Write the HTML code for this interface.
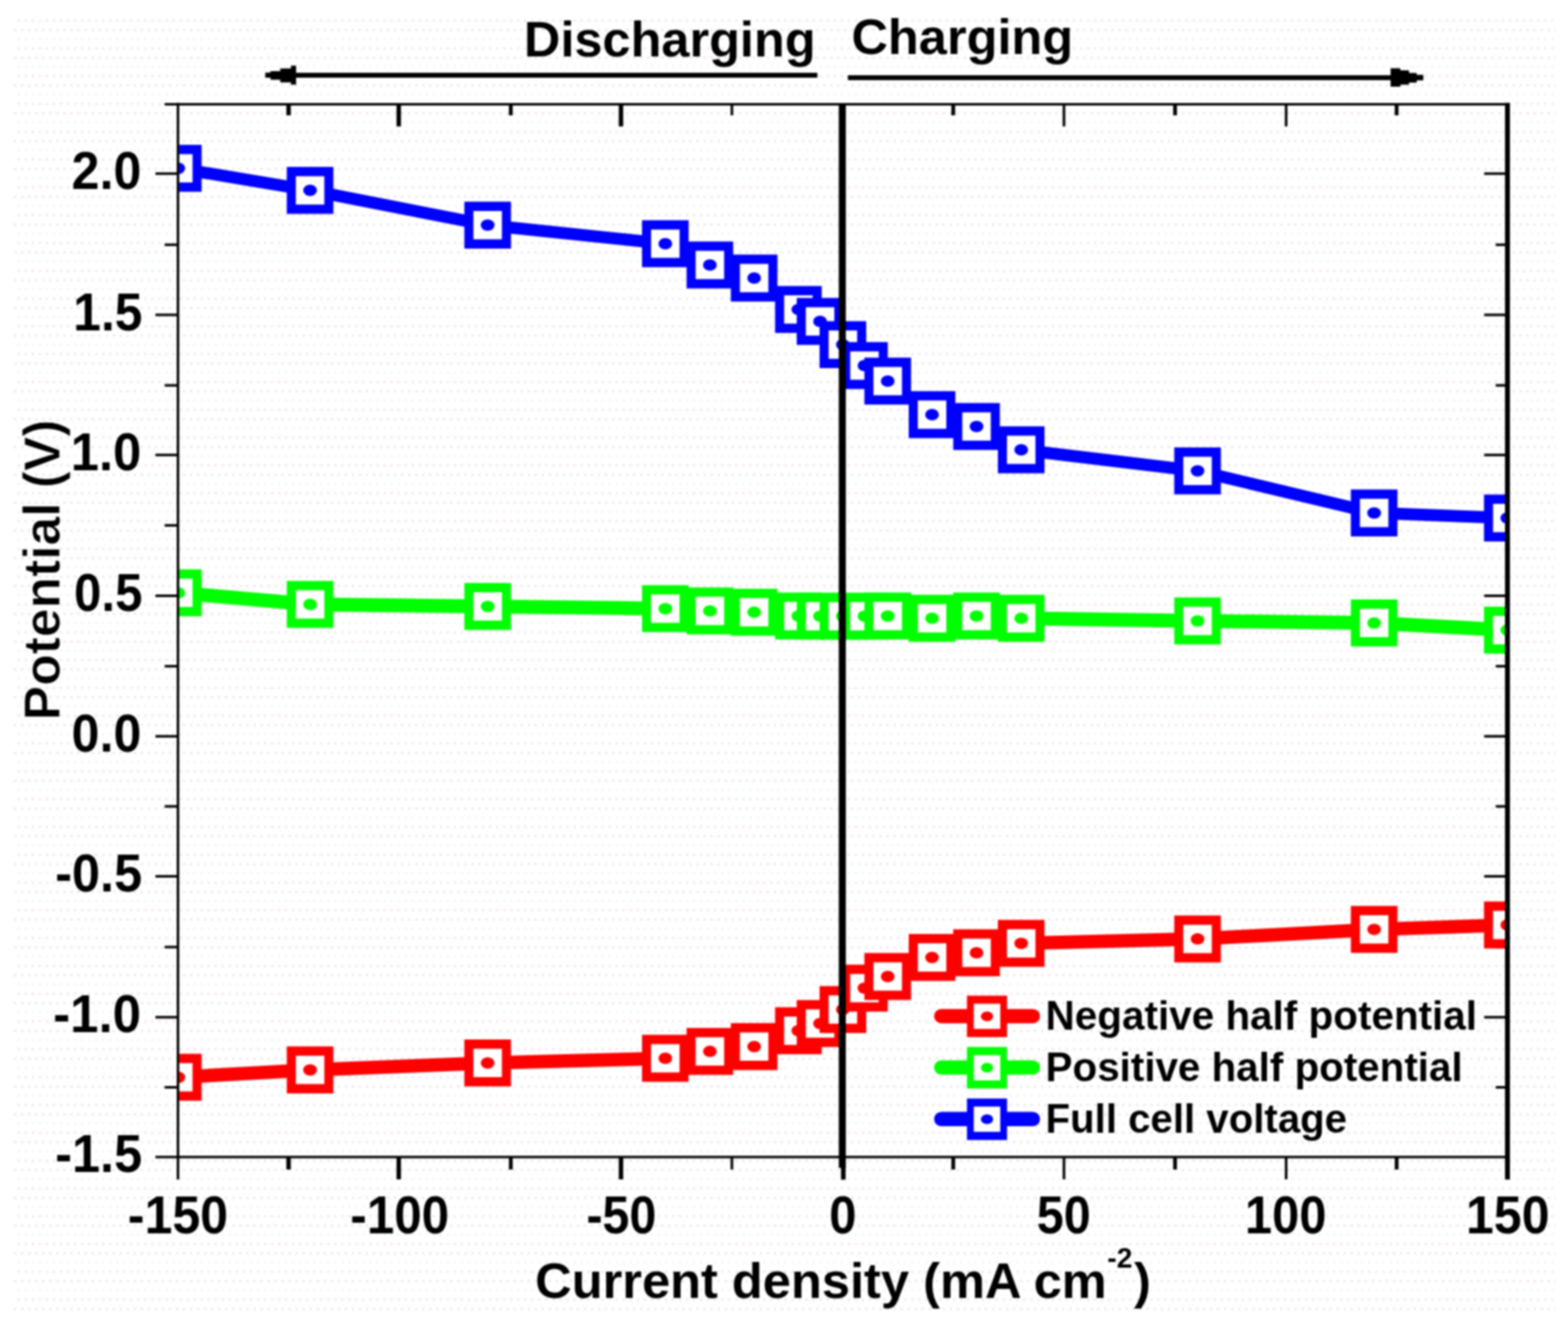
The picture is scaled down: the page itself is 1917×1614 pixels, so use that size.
<!DOCTYPE html>
<html lang="en"><head><meta charset="utf-8">
<title>Polarization curve: potential vs current density</title>
<style>
html,body{margin:0;padding:0;background:#fff;}
body{width:1917px;height:1614px;overflow:hidden;}
svg{display:block;}
text{font-family:"Liberation Sans", Arial, Helvetica, sans-serif;font-weight:bold;fill:#000;}
</style></head><body>
<svg width="1917" height="1614" viewBox="0 0 1917 1614">
<defs>
<clipPath id="plot"><rect x="219.1" y="127.5" width="1623.9" height="1287.3"/></clipPath>
<filter id="soft" x="-2%" y="-2%" width="104%" height="104%" color-interpolation-filters="sRGB"><feGaussianBlur stdDeviation="0.9"/></filter>
<pattern id="dither" x="20" y="22" width="17.2" height="34" patternUnits="userSpaceOnUse">
<rect width="17.2" height="34" fill="#ffffff"/>
<circle cx="3" cy="3" r="1.6" fill="#f1e3f1"/>
<circle cx="11.6" cy="3" r="1.6" fill="#f1e3f1"/>
<circle cx="7.3" cy="14.5" r="1.6" fill="#f1e3f1"/>
<circle cx="15.9" cy="14.5" r="1.6" fill="#f1e3f1"/>
<circle cx="3" cy="25.5" r="1.6" fill="#eaf7f9"/>
<circle cx="11.6" cy="25.5" r="1.6" fill="#f2f7e7"/>
</pattern>
</defs>
<rect x="0" y="0" width="1917" height="1614" fill="#ffffff"/>
<g filter="url(#soft)">
<rect x="16" y="20" width="1886" height="1584" fill="url(#dither)"/>
<g stroke="#000" fill="none" stroke-linecap="butt">
<line x1="190" y1="212.3" x2="217.6" y2="212.3" stroke-width="3.1"/>
<line x1="1814.5" y1="212.3" x2="1843.0" y2="212.3" stroke-width="3.1"/>
<line x1="201.3" y1="299.3" x2="217.6" y2="299.3" stroke-width="3.1"/>
<line x1="1828.6" y1="299.3" x2="1843.0" y2="299.3" stroke-width="3.1"/>
<line x1="190" y1="385.0" x2="217.6" y2="385.0" stroke-width="3.1"/>
<line x1="1814.5" y1="385.0" x2="1843.0" y2="385.0" stroke-width="3.1"/>
<line x1="201.3" y1="471.2" x2="217.6" y2="471.2" stroke-width="3.1"/>
<line x1="1828.6" y1="471.2" x2="1843.0" y2="471.2" stroke-width="3.1"/>
<line x1="190" y1="556.3" x2="217.6" y2="556.3" stroke-width="3.1"/>
<line x1="1814.5" y1="556.3" x2="1843.0" y2="556.3" stroke-width="3.1"/>
<line x1="201.3" y1="642.4" x2="217.6" y2="642.4" stroke-width="3.1"/>
<line x1="1828.6" y1="642.4" x2="1843.0" y2="642.4" stroke-width="3.1"/>
<line x1="190" y1="728.5" x2="217.6" y2="728.5" stroke-width="3.1"/>
<line x1="1814.5" y1="728.5" x2="1843.0" y2="728.5" stroke-width="3.1"/>
<line x1="201.3" y1="814.6" x2="217.6" y2="814.6" stroke-width="3.1"/>
<line x1="1828.6" y1="814.6" x2="1843.0" y2="814.6" stroke-width="3.1"/>
<line x1="190" y1="900.3" x2="217.6" y2="900.3" stroke-width="3.1"/>
<line x1="1814.5" y1="900.3" x2="1843.0" y2="900.3" stroke-width="3.1"/>
<line x1="201.3" y1="986.0" x2="217.6" y2="986.0" stroke-width="3.1"/>
<line x1="1828.6" y1="986.0" x2="1843.0" y2="986.0" stroke-width="3.1"/>
<line x1="190" y1="1071.5" x2="217.6" y2="1071.5" stroke-width="3.1"/>
<line x1="1814.5" y1="1071.5" x2="1843.0" y2="1071.5" stroke-width="3.1"/>
<line x1="201.3" y1="1158.0" x2="217.6" y2="1158.0" stroke-width="3.1"/>
<line x1="1828.6" y1="1158.0" x2="1843.0" y2="1158.0" stroke-width="3.1"/>
<line x1="190" y1="1243.8" x2="217.6" y2="1243.8" stroke-width="3.1"/>
<line x1="1814.5" y1="1243.8" x2="1843.0" y2="1243.8" stroke-width="3.1"/>
<line x1="201.3" y1="1329.5" x2="217.6" y2="1329.5" stroke-width="3.1"/>
<line x1="1828.6" y1="1329.5" x2="1843.0" y2="1329.5" stroke-width="3.1"/>
<line x1="352.8" y1="127.5" x2="352.8" y2="141.0" stroke-width="5.4"/>
<line x1="352.8" y1="1414.8" x2="352.8" y2="1430.0" stroke-width="5.4"/>
<line x1="487.5" y1="127.5" x2="487.5" y2="154.6" stroke-width="5.4"/>
<line x1="487.5" y1="1414.8" x2="487.5" y2="1442.0" stroke-width="5.4"/>
<line x1="624.5" y1="127.5" x2="624.5" y2="141.0" stroke-width="4.6"/>
<line x1="624.5" y1="1414.8" x2="624.5" y2="1430.0" stroke-width="4.6"/>
<line x1="759.2" y1="127.5" x2="759.2" y2="154.6" stroke-width="5.4"/>
<line x1="759.2" y1="1414.8" x2="759.2" y2="1442.0" stroke-width="5.4"/>
<line x1="894.8" y1="127.5" x2="894.8" y2="141.0" stroke-width="3.2"/>
<line x1="894.8" y1="1414.8" x2="894.8" y2="1430.0" stroke-width="3.2"/>
<line x1="1165.4" y1="127.5" x2="1165.4" y2="141.0" stroke-width="4.6"/>
<line x1="1165.4" y1="1414.8" x2="1165.4" y2="1430.0" stroke-width="4.6"/>
<line x1="1300.8" y1="127.5" x2="1300.8" y2="154.6" stroke-width="3.2"/>
<line x1="1300.8" y1="1414.8" x2="1300.8" y2="1442.0" stroke-width="3.2"/>
<line x1="1436.6" y1="127.5" x2="1436.6" y2="141.0" stroke-width="4.6"/>
<line x1="1436.6" y1="1414.8" x2="1436.6" y2="1430.0" stroke-width="4.6"/>
<line x1="1572.4" y1="127.5" x2="1572.4" y2="154.6" stroke-width="3.2"/>
<line x1="1572.4" y1="1414.8" x2="1572.4" y2="1442.0" stroke-width="3.2"/>
<line x1="1707.5" y1="127.5" x2="1707.5" y2="141.0" stroke-width="4.6"/>
<line x1="1707.5" y1="1414.8" x2="1707.5" y2="1430.0" stroke-width="4.6"/>
</g>
<g clip-path="url(#plot)">
<polyline points="218.0,1317.2 379.1,1308.2 596.2,1299.7 813.4,1294.0 867.9,1285.6 922.0,1279.7 976.1,1260.3 1002.6,1251.5 1030.5,1234.4 1056.9,1208.2 1085.3,1194.0 1139.5,1170.7 1193.9,1165.0 1248.5,1153.5 1464.1,1148.1 1680.0,1136.4 1842.8,1131.0" fill="none" stroke="#ff0000" stroke-width="16.5" stroke-linejoin="round"/>
<rect x="189.5" y="1288.5" width="57.0" height="57.4" fill="#ff0000"/>
<rect x="200.6" y="1299.9" width="34.8" height="34.6" fill="#ffffff"/>
<ellipse cx="218.0" cy="1317.2" rx="8.4" ry="7" fill="#ff0000"/>
<rect x="350.6" y="1279.5" width="57.0" height="57.4" fill="#ff0000"/>
<rect x="361.7" y="1290.9" width="34.8" height="34.6" fill="#ffffff"/>
<ellipse cx="379.1" cy="1308.2" rx="8.4" ry="7" fill="#ff0000"/>
<rect x="567.7" y="1271.0" width="57.0" height="57.4" fill="#ff0000"/>
<rect x="578.8" y="1282.4" width="34.8" height="34.6" fill="#ffffff"/>
<ellipse cx="596.2" cy="1299.7" rx="8.4" ry="7" fill="#ff0000"/>
<rect x="784.9" y="1265.3" width="57.0" height="57.4" fill="#ff0000"/>
<rect x="796.0" y="1276.7" width="34.8" height="34.6" fill="#ffffff"/>
<ellipse cx="813.4" cy="1294.0" rx="8.4" ry="7" fill="#ff0000"/>
<rect x="839.4" y="1256.9" width="57.0" height="57.4" fill="#ff0000"/>
<rect x="850.5" y="1268.3" width="34.8" height="34.6" fill="#ffffff"/>
<ellipse cx="867.9" cy="1285.6" rx="8.4" ry="7" fill="#ff0000"/>
<rect x="893.5" y="1251.0" width="57.0" height="57.4" fill="#ff0000"/>
<rect x="904.6" y="1262.4" width="34.8" height="34.6" fill="#ffffff"/>
<ellipse cx="922.0" cy="1279.7" rx="8.4" ry="7" fill="#ff0000"/>
<rect x="947.6" y="1231.6" width="57.0" height="57.4" fill="#ff0000"/>
<rect x="958.7" y="1243.0" width="34.8" height="34.6" fill="#ffffff"/>
<ellipse cx="976.1" cy="1260.3" rx="8.4" ry="7" fill="#ff0000"/>
<rect x="974.1" y="1222.8" width="57.0" height="57.4" fill="#ff0000"/>
<rect x="985.2" y="1234.2" width="34.8" height="34.6" fill="#ffffff"/>
<ellipse cx="1002.6" cy="1251.5" rx="8.4" ry="7" fill="#ff0000"/>
<rect x="1002.0" y="1205.7" width="57.0" height="57.4" fill="#ff0000"/>
<rect x="1013.1" y="1217.1" width="34.8" height="34.6" fill="#ffffff"/>
<ellipse cx="1030.5" cy="1234.4" rx="8.4" ry="7" fill="#ff0000"/>
<rect x="1028.4" y="1179.5" width="57.0" height="57.4" fill="#ff0000"/>
<rect x="1039.5" y="1190.9" width="34.8" height="34.6" fill="#ffffff"/>
<ellipse cx="1056.9" cy="1208.2" rx="8.4" ry="7" fill="#ff0000"/>
<rect x="1056.8" y="1165.3" width="57.0" height="57.4" fill="#ff0000"/>
<rect x="1067.9" y="1176.7" width="34.8" height="34.6" fill="#ffffff"/>
<ellipse cx="1085.3" cy="1194.0" rx="8.4" ry="7" fill="#ff0000"/>
<rect x="1111.0" y="1142.0" width="57.0" height="57.4" fill="#ff0000"/>
<rect x="1122.1" y="1153.4" width="34.8" height="34.6" fill="#ffffff"/>
<ellipse cx="1139.5" cy="1170.7" rx="8.4" ry="7" fill="#ff0000"/>
<rect x="1165.4" y="1136.3" width="57.0" height="57.4" fill="#ff0000"/>
<rect x="1176.5" y="1147.7" width="34.8" height="34.6" fill="#ffffff"/>
<ellipse cx="1193.9" cy="1165.0" rx="8.4" ry="7" fill="#ff0000"/>
<rect x="1220.0" y="1124.8" width="57.0" height="57.4" fill="#ff0000"/>
<rect x="1231.1" y="1136.2" width="34.8" height="34.6" fill="#ffffff"/>
<ellipse cx="1248.5" cy="1153.5" rx="8.4" ry="7" fill="#ff0000"/>
<rect x="1435.6" y="1119.4" width="57.0" height="57.4" fill="#ff0000"/>
<rect x="1446.7" y="1130.8" width="34.8" height="34.6" fill="#ffffff"/>
<ellipse cx="1464.1" cy="1148.1" rx="8.4" ry="7" fill="#ff0000"/>
<rect x="1651.5" y="1107.7" width="57.0" height="57.4" fill="#ff0000"/>
<rect x="1662.6" y="1119.1" width="34.8" height="34.6" fill="#ffffff"/>
<ellipse cx="1680.0" cy="1136.4" rx="8.4" ry="7" fill="#ff0000"/>
<rect x="1814.3" y="1102.3" width="57.0" height="57.4" fill="#ff0000"/>
<rect x="1825.4" y="1113.7" width="34.8" height="34.6" fill="#ffffff"/>
<ellipse cx="1842.8" cy="1131.0" rx="8.4" ry="7" fill="#ff0000"/>
</g>
<g clip-path="url(#plot)">
<polyline points="218.0,724.9 379.1,739.0 596.2,741.5 813.4,744.2 867.9,747.0 922.0,748.6 976.1,753.2 1002.6,753.5 1030.5,753.5 1056.9,753.5 1085.3,753.2 1139.5,756.0 1193.9,753.2 1248.5,756.0 1464.1,759.2 1680.0,761.7 1842.8,770.5" fill="none" stroke="#00ff00" stroke-width="17" stroke-linejoin="round"/>
<rect x="189.5" y="696.2" width="57.0" height="57.4" fill="#00ff00"/>
<rect x="200.6" y="707.6" width="34.8" height="34.6" fill="#ffffff"/>
<ellipse cx="218.0" cy="724.9" rx="8.4" ry="7" fill="#00ff00"/>
<rect x="350.6" y="710.3" width="57.0" height="57.4" fill="#00ff00"/>
<rect x="361.7" y="721.7" width="34.8" height="34.6" fill="#ffffff"/>
<ellipse cx="379.1" cy="739.0" rx="8.4" ry="7" fill="#00ff00"/>
<rect x="567.7" y="712.8" width="57.0" height="57.4" fill="#00ff00"/>
<rect x="578.8" y="724.2" width="34.8" height="34.6" fill="#ffffff"/>
<ellipse cx="596.2" cy="741.5" rx="8.4" ry="7" fill="#00ff00"/>
<rect x="784.9" y="715.5" width="57.0" height="57.4" fill="#00ff00"/>
<rect x="796.0" y="726.9" width="34.8" height="34.6" fill="#ffffff"/>
<ellipse cx="813.4" cy="744.2" rx="8.4" ry="7" fill="#00ff00"/>
<rect x="839.4" y="718.3" width="57.0" height="57.4" fill="#00ff00"/>
<rect x="850.5" y="729.7" width="34.8" height="34.6" fill="#ffffff"/>
<ellipse cx="867.9" cy="747.0" rx="8.4" ry="7" fill="#00ff00"/>
<rect x="893.5" y="719.9" width="57.0" height="57.4" fill="#00ff00"/>
<rect x="904.6" y="731.3" width="34.8" height="34.6" fill="#ffffff"/>
<ellipse cx="922.0" cy="748.6" rx="8.4" ry="7" fill="#00ff00"/>
<rect x="947.6" y="724.5" width="57.0" height="57.4" fill="#00ff00"/>
<rect x="958.7" y="735.9" width="34.8" height="34.6" fill="#ffffff"/>
<ellipse cx="976.1" cy="753.2" rx="8.4" ry="7" fill="#00ff00"/>
<rect x="974.1" y="724.8" width="57.0" height="57.4" fill="#00ff00"/>
<rect x="985.2" y="736.2" width="34.8" height="34.6" fill="#ffffff"/>
<ellipse cx="1002.6" cy="753.5" rx="8.4" ry="7" fill="#00ff00"/>
<rect x="1002.0" y="724.8" width="57.0" height="57.4" fill="#00ff00"/>
<rect x="1013.1" y="736.2" width="34.8" height="34.6" fill="#ffffff"/>
<ellipse cx="1030.5" cy="753.5" rx="8.4" ry="7" fill="#00ff00"/>
<rect x="1028.4" y="724.8" width="57.0" height="57.4" fill="#00ff00"/>
<rect x="1039.5" y="736.2" width="34.8" height="34.6" fill="#ffffff"/>
<ellipse cx="1056.9" cy="753.5" rx="8.4" ry="7" fill="#00ff00"/>
<rect x="1056.8" y="724.5" width="57.0" height="57.4" fill="#00ff00"/>
<rect x="1067.9" y="735.9" width="34.8" height="34.6" fill="#ffffff"/>
<ellipse cx="1085.3" cy="753.2" rx="8.4" ry="7" fill="#00ff00"/>
<rect x="1111.0" y="727.3" width="57.0" height="57.4" fill="#00ff00"/>
<rect x="1122.1" y="738.7" width="34.8" height="34.6" fill="#ffffff"/>
<ellipse cx="1139.5" cy="756.0" rx="8.4" ry="7" fill="#00ff00"/>
<rect x="1165.4" y="724.5" width="57.0" height="57.4" fill="#00ff00"/>
<rect x="1176.5" y="735.9" width="34.8" height="34.6" fill="#ffffff"/>
<ellipse cx="1193.9" cy="753.2" rx="8.4" ry="7" fill="#00ff00"/>
<rect x="1220.0" y="727.3" width="57.0" height="57.4" fill="#00ff00"/>
<rect x="1231.1" y="738.7" width="34.8" height="34.6" fill="#ffffff"/>
<ellipse cx="1248.5" cy="756.0" rx="8.4" ry="7" fill="#00ff00"/>
<rect x="1435.6" y="730.5" width="57.0" height="57.4" fill="#00ff00"/>
<rect x="1446.7" y="741.9" width="34.8" height="34.6" fill="#ffffff"/>
<ellipse cx="1464.1" cy="759.2" rx="8.4" ry="7" fill="#00ff00"/>
<rect x="1651.5" y="733.0" width="57.0" height="57.4" fill="#00ff00"/>
<rect x="1662.6" y="744.4" width="34.8" height="34.6" fill="#ffffff"/>
<ellipse cx="1680.0" cy="761.7" rx="8.4" ry="7" fill="#00ff00"/>
<rect x="1814.3" y="741.8" width="57.0" height="57.4" fill="#00ff00"/>
<rect x="1825.4" y="753.2" width="34.8" height="34.6" fill="#ffffff"/>
<ellipse cx="1842.8" cy="770.5" rx="8.4" ry="7" fill="#00ff00"/>
</g>
<g clip-path="url(#plot)">
<polyline points="218.0,205.8 379.1,232.8 596.2,275.3 813.4,298.0 867.9,324.0 922.0,340.0 976.1,378.4 1002.6,393.0 1030.5,421.4 1056.9,447.0 1085.3,466.0 1139.5,507.0 1193.9,521.5 1248.5,550.0 1464.1,575.8 1680.0,627.2 1842.8,633.4" fill="none" stroke="#0000ff" stroke-width="14.8" stroke-linejoin="round"/>
<rect x="189.5" y="177.1" width="57.0" height="57.4" fill="#0000ff"/>
<rect x="200.6" y="188.5" width="34.8" height="34.6" fill="#ffffff"/>
<ellipse cx="218.0" cy="205.8" rx="8.4" ry="7" fill="#0000ff"/>
<rect x="350.6" y="204.1" width="57.0" height="57.4" fill="#0000ff"/>
<rect x="361.7" y="215.5" width="34.8" height="34.6" fill="#ffffff"/>
<ellipse cx="379.1" cy="232.8" rx="8.4" ry="7" fill="#0000ff"/>
<rect x="567.7" y="246.6" width="57.0" height="57.4" fill="#0000ff"/>
<rect x="578.8" y="258.0" width="34.8" height="34.6" fill="#ffffff"/>
<ellipse cx="596.2" cy="275.3" rx="8.4" ry="7" fill="#0000ff"/>
<rect x="784.9" y="269.3" width="57.0" height="57.4" fill="#0000ff"/>
<rect x="796.0" y="280.7" width="34.8" height="34.6" fill="#ffffff"/>
<ellipse cx="813.4" cy="298.0" rx="8.4" ry="7" fill="#0000ff"/>
<rect x="839.4" y="295.3" width="57.0" height="57.4" fill="#0000ff"/>
<rect x="850.5" y="306.7" width="34.8" height="34.6" fill="#ffffff"/>
<ellipse cx="867.9" cy="324.0" rx="8.4" ry="7" fill="#0000ff"/>
<rect x="893.5" y="311.3" width="57.0" height="57.4" fill="#0000ff"/>
<rect x="904.6" y="322.7" width="34.8" height="34.6" fill="#ffffff"/>
<ellipse cx="922.0" cy="340.0" rx="8.4" ry="7" fill="#0000ff"/>
<rect x="947.6" y="349.7" width="57.0" height="57.4" fill="#0000ff"/>
<rect x="958.7" y="361.1" width="34.8" height="34.6" fill="#ffffff"/>
<ellipse cx="976.1" cy="378.4" rx="8.4" ry="7" fill="#0000ff"/>
<rect x="974.1" y="364.3" width="57.0" height="57.4" fill="#0000ff"/>
<rect x="985.2" y="375.7" width="34.8" height="34.6" fill="#ffffff"/>
<ellipse cx="1002.6" cy="393.0" rx="8.4" ry="7" fill="#0000ff"/>
<rect x="1002.0" y="392.7" width="57.0" height="57.4" fill="#0000ff"/>
<rect x="1013.1" y="404.1" width="34.8" height="34.6" fill="#ffffff"/>
<ellipse cx="1030.5" cy="421.4" rx="8.4" ry="7" fill="#0000ff"/>
<rect x="1028.4" y="418.3" width="57.0" height="57.4" fill="#0000ff"/>
<rect x="1039.5" y="429.7" width="34.8" height="34.6" fill="#ffffff"/>
<ellipse cx="1056.9" cy="447.0" rx="8.4" ry="7" fill="#0000ff"/>
<rect x="1056.8" y="437.3" width="57.0" height="57.4" fill="#0000ff"/>
<rect x="1067.9" y="448.7" width="34.8" height="34.6" fill="#ffffff"/>
<ellipse cx="1085.3" cy="466.0" rx="8.4" ry="7" fill="#0000ff"/>
<rect x="1111.0" y="478.3" width="57.0" height="57.4" fill="#0000ff"/>
<rect x="1122.1" y="489.7" width="34.8" height="34.6" fill="#ffffff"/>
<ellipse cx="1139.5" cy="507.0" rx="8.4" ry="7" fill="#0000ff"/>
<rect x="1165.4" y="492.8" width="57.0" height="57.4" fill="#0000ff"/>
<rect x="1176.5" y="504.2" width="34.8" height="34.6" fill="#ffffff"/>
<ellipse cx="1193.9" cy="521.5" rx="8.4" ry="7" fill="#0000ff"/>
<rect x="1220.0" y="521.3" width="57.0" height="57.4" fill="#0000ff"/>
<rect x="1231.1" y="532.7" width="34.8" height="34.6" fill="#ffffff"/>
<ellipse cx="1248.5" cy="550.0" rx="8.4" ry="7" fill="#0000ff"/>
<rect x="1435.6" y="547.1" width="57.0" height="57.4" fill="#0000ff"/>
<rect x="1446.7" y="558.5" width="34.8" height="34.6" fill="#ffffff"/>
<ellipse cx="1464.1" cy="575.8" rx="8.4" ry="7" fill="#0000ff"/>
<rect x="1651.5" y="598.5" width="57.0" height="57.4" fill="#0000ff"/>
<rect x="1662.6" y="609.9" width="34.8" height="34.6" fill="#ffffff"/>
<ellipse cx="1680.0" cy="627.2" rx="8.4" ry="7" fill="#0000ff"/>
<rect x="1814.3" y="604.7" width="57.0" height="57.4" fill="#0000ff"/>
<rect x="1825.4" y="616.1" width="34.8" height="34.6" fill="#ffffff"/>
<ellipse cx="1842.8" cy="633.4" rx="8.4" ry="7" fill="#0000ff"/>
</g>
<g stroke="#000" fill="none" stroke-linecap="butt">
<line x1="217.6" y1="125.8" x2="217.6" y2="1442.2" stroke-width="3.1"/>
<line x1="1843.0" y1="125.8" x2="1843.0" y2="1442.2" stroke-width="6"/>
<line x1="201.3" y1="127.5" x2="1846.0" y2="127.5" stroke-width="3.1"/>
<line x1="190" y1="1414.8" x2="1846.0" y2="1414.8" stroke-width="3.1"/>
<line x1="1029.8" y1="127.5" x2="1029.8" y2="1428" stroke-width="8.6"/>
<line x1="1031" y1="1427" x2="1031" y2="1442.4" stroke-width="5.6"/>
<line x1="360" y1="91.9" x2="999.3" y2="91.9" stroke-width="6"/>
<line x1="1036.6" y1="94.9" x2="1702" y2="94.9" stroke-width="6"/>
</g>
<path d="M324.4 88.8 H330.7 V86.9 H342.6 V83.8 H355.7 V80.3 H362 V103.5 H355.7 V100.7 H342.6 V97.6 H330.7 V95 H324.4 Z" fill="#000"/>
<path d="M1740.1 91.6 H1732 V89.2 H1722.6 V86.1 H1712 V83.6 H1700.1 V106.1 H1712 V103.6 H1722.6 V101.1 H1732 V98.2 H1740.1 Z" fill="#000"/>
<line x1="1150.8" y1="1242.4" x2="1262.8" y2="1242.4" stroke="#ff0000" stroke-width="17.5" stroke-linecap="round"/>
<rect x="1182.2" y="1217.4" width="49.0" height="50.7" fill="#ff0000"/>
<rect x="1190.5" y="1227.3" width="32.4" height="30.8" fill="#ffffff"/>
<ellipse cx="1206.7" cy="1242.7" rx="7.5" ry="6" fill="#ff0000"/>
<line x1="1150.8" y1="1305.3" x2="1262.8" y2="1305.3" stroke="#00ff00" stroke-width="17.5" stroke-linecap="round"/>
<rect x="1182.2" y="1280.2" width="49.0" height="50.7" fill="#00ff00"/>
<rect x="1190.5" y="1290.2" width="32.4" height="30.8" fill="#ffffff"/>
<ellipse cx="1206.7" cy="1305.6" rx="7.5" ry="6" fill="#00ff00"/>
<line x1="1150.8" y1="1368.2" x2="1262.8" y2="1368.2" stroke="#0000ff" stroke-width="17.5" stroke-linecap="round"/>
<rect x="1182.2" y="1343.2" width="49.0" height="50.7" fill="#0000ff"/>
<rect x="1190.5" y="1353.1" width="32.4" height="30.8" fill="#ffffff"/>
<ellipse cx="1206.7" cy="1368.5" rx="7.5" ry="6" fill="#0000ff"/>
<text transform="translate(87.62 230.86) scale(0.9878 1.0409)" font-size="62">2.0</text>
<text transform="translate(89.55 403.56) scale(0.9817 1.0409)" font-size="62">1.5</text>
<text transform="translate(86.60 574.86) scale(1.0000 1.0409)" font-size="62">1.0</text>
<text transform="translate(90.56 747.06) scale(0.9699 1.0409)" font-size="62">0.5</text>
<text transform="translate(87.62 918.86) scale(0.9878 1.0409)" font-size="62">0.0</text>
<text transform="translate(67.51 1090.06) scale(0.9952 1.0409)" font-size="62">-0.5</text>
<text transform="translate(65.09 1262.36) scale(1.0049 1.0409)" font-size="62">-1.0</text>
<text transform="translate(67.51 1433.36) scale(0.9952 1.0409)" font-size="62">-1.5</text>
<text transform="translate(156.32 1507.56) scale(0.9883 1.0409)" font-size="62">-150</text>
<text transform="translate(428.35 1507.56) scale(0.9733 1.0409)" font-size="62">-100</text>
<text transform="translate(716.89 1507.56) scale(0.9547 1.0409)" font-size="62">-50</text>
<text transform="translate(1013.66 1507.56) scale(0.9677 1.0409)" font-size="62">0</text>
<text transform="translate(1267.49 1507.56) scale(0.9569 1.0409)" font-size="62">50</text>
<text transform="translate(1522.11 1507.56) scale(0.9626 1.0409)" font-size="62">100</text>
<text transform="translate(1792.34 1507.56) scale(0.9869 1.0409)" font-size="62">150</text>
<text transform="translate(640.62 69.00) scale(0.9952 0.9850)" font-size="62">Discharging</text>
<text transform="translate(1041.01 65.60) scale(0.9963 1.0000)" font-size="62">Charging</text>
<text transform="translate(72.73 880.65) scale(1.0290 1.0168) rotate(-90)" font-size="62" stroke="#ffffff" stroke-width="0.8" stroke-linejoin="round">Potential (V)</text>
<text transform="translate(1278.33 1259.30) scale(0.9888 0.9900)" font-size="50">Negative half potential</text>
<text transform="translate(1278.34 1321.90) scale(0.9871 0.9900)" font-size="50">Positive half potential</text>
<text transform="translate(1278.35 1385.00) scale(0.9827 0.9900)" font-size="50">Full cell voltage</text>
<text transform="translate(654.30 1586.50) scale(0.9977 0.9900)" font-size="62">Current density (mA cm<tspan x="701.09" y="-36.98" font-size="34.63">-2</tspan><tspan x="733.89" y="0">)</tspan></text>
</g>
</svg>
</body></html>
